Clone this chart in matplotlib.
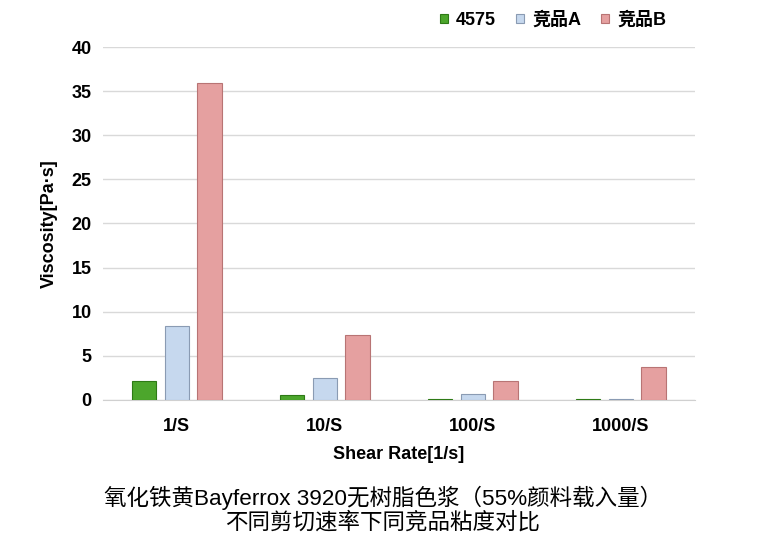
import matplotlib
matplotlib.use("Agg")
import matplotlib.pyplot as plt
import numpy as np

plt.rcParams['font.family'] = ['Liberation Sans', 'Noto Sans CJK SC', 'DejaVu Sans']

# data
categories = ['1/S', '10/S', '100/S', '1000/S']
series = ['4575', '竞品A', '竞品B']
v4575 = [2.1, 0.5, 0.15, 0.1]
vA = [8.4, 2.5, 0.7, 0.1]
vB = [35.9, 7.4, 2.15, 3.7]

colors = ['#4ca62c', '#c6d8ee', '#e5a0a0']
edges = ['#2e7a16', '#8a9bb3', '#b87474']

fig = plt.figure(figsize=(7.61, 5.47), dpi=100)
ax = fig.add_axes([0.135, 0.269, 0.778, 0.645])

x = np.arange(len(categories))
w = 0.165
off = 0.22
for i, vals in enumerate([v4575, vA, vB]):
    ax.bar(x + (i - 1) * off, vals, width=w, color=colors[i], edgecolor=edges[i],
           linewidth=0.8, label=series[i], zorder=3)

ax.set_xlim(-0.5, 3.5)
ax.set_ylim(0, 40)
ax.set_yticks(np.arange(0, 41, 5))
ax.set_xticks(x)
ax.set_xticklabels(categories)
ax.grid(axis='y', color='#d9d9d9', linewidth=1, zorder=0)
for s in ['top', 'right', 'left']:
    ax.spines[s].set_visible(False)
ax.spines['bottom'].set_color('#d0d0d0')
ax.tick_params(axis='x', length=0, labelsize=13, pad=13)
ax.tick_params(axis='y', length=0, labelsize=13, pad=8)
for lab in ax.get_xticklabels() + ax.get_yticklabels():
    lab.set_fontweight('bold')

ax.set_ylabel('Viscosity[Pa·s]', fontsize=13, fontweight='bold', labelpad=10)
ax.set_xlabel('Shear Rate[1/s]', fontsize=13, fontweight='bold', labelpad=8)

leg = fig.legend(loc='center right', bbox_to_anchor=(0.897, 0.963), ncol=3, frameon=False,
                 handlelength=0.45, handleheight=0.45, handletextpad=0.45, columnspacing=1.1,
                 prop={'weight': 'bold', 'size': 13})

fig.text(0.503, 0.068, '氧化铁黄Bayferrox 3920无树脂色浆（55%颜料载入量）\n不同剪切速率下同竞品粘度对比',
         ha='center', va='center', fontsize=16.2, linespacing=1.15)

fig.savefig('out.png', dpi=100)
